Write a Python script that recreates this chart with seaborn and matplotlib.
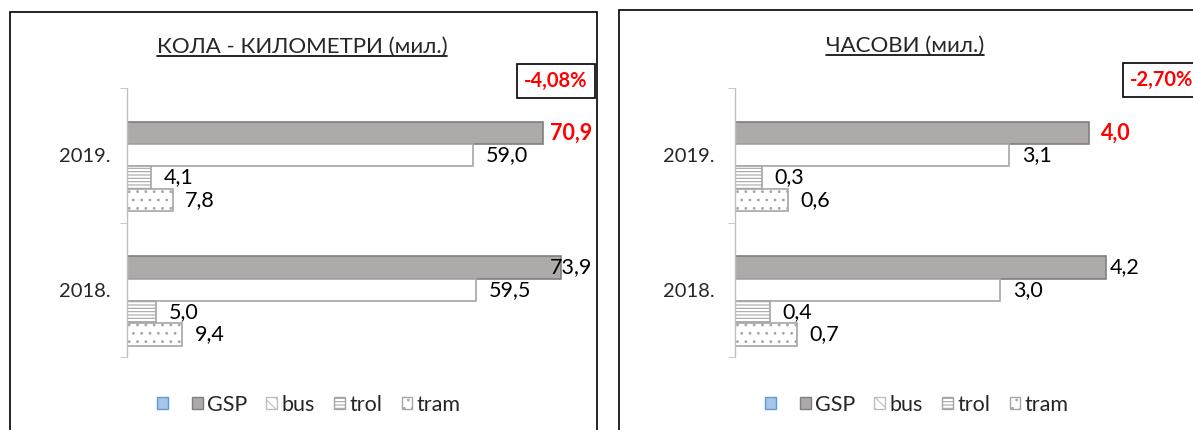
import pandas as pd
import matplotlib
matplotlib.use('Agg')
import matplotlib.pyplot as plt
from matplotlib.patches import Patch, Rectangle
from matplotlib.lines import Line2D
import seaborn as sns

#%% data
years = ['2019.', '2018.']
series = [' ', 'GSP', 'bus', 'trol', 'tram']   # first one is the empty series from the excel sheet
km_2019 = [70.9, 59.0, 4.1, 7.8]
km_2018 = [73.9, 59.5, 5.0, 9.4]
hours_2019 = [4.0, 3.1, 0.3, 0.6]
hours_2018 = [4.2, 3.0, 0.4, 0.7]
titles = ['КОЛА - КИЛОМЕТРИ (мил.)', 'ЧАСОВИ (мил.)']
changes = ['-4,08%', '-2,70%']

#%% style
sns.set_style('white')
plt.rcParams['font.family'] = ['Lato', 'DejaVu Sans']
plt.rcParams['hatch.linewidth'] = 0.8

face = {' ': '#A9C4E6', 'GSP': '#AEAAAA', 'bus': 'white', 'trol': 'white', 'tram': 'white'}
edge = {' ': '#5B9BD5', 'GSP': '#7F7F7F', 'bus': '#A6A6A6', 'trol': '#A6A6A6', 'tram': '#A6A6A6'}
hatch = {' ': '', 'GSP': '', 'bus': '', 'trol': '-----', 'tram': '..'}


def to_long(v19, v18):
    rows = []
    for year, vals in zip(years, [v19, v18]):
        rows.append((year, series[0], 0.0))
        for s, v in zip(series[1:], vals):
            rows.append((year, s, v))
    return pd.DataFrame(rows, columns=['year', 'mode', 'value'])


def fmt(v):
    return f'{v:.1f}'.replace('.', ',')


W, H = 1193, 430
fig = plt.figure(figsize=(W / 100, H / 100), dpi=100)


def px(x0, y0, x1, y1):
    return [x0 / W, 1 - y1 / H, (x1 - x0) / W, (y1 - y0) / H]


panels = [
    dict(df=to_long(km_2019, km_2018), box=(127, 88, 592, 357), xmax=79.2, pad=12,
         title=(302, 47), change=(556, 81), legend=(309, 405), frame=(10, 12, 597)),
    dict(df=to_long(hours_2019, hours_2018), box=(735, 88, 1140, 357), xmax=4.58, pad=15,
         title=(905, 46), change=(1162, 80), legend=(917, 405), frame=(619, 10, 1205)),
]

labels = []
titles_txt = []
for p, title, change in zip(panels, titles, changes):
    ax = fig.add_axes(px(*p['box']))
    sns.barplot(data=p['df'], y='year', x='value', hue='mode', order=years, hue_order=series,
                orient='h', width=0.83, palette=face, legend=False, ax=ax)
    for cont, s in zip(ax.containers, series):
        for bar in cont:
            if s == ' ':
                bar.set_visible(False)
                continue
            bar.set_facecolor(face[s])
            bar.set_edgecolor(edge[s])
            bar.set_hatch(hatch[s])
            bar.set_linewidth(1.2)
            v = bar.get_width()
            y = bar.get_y() + bar.get_height() / 2
            top = s == 'GSP' and y < 0.5
            t = ax.annotate(fmt(v), (v, y), xytext=(9, 0), textcoords='offset points',
                            ha='left', va='center', fontsize=15.5,
                            color='#FF0000' if top else 'black',
                            fontweight='bold' if top else 'normal')
            labels.append((ax, t))

    ax.set_xlim(0, p['xmax'])
    ax.set_ylim(1.5, -0.5)
    ax.set_xticks([])
    ax.set_xlabel('')
    ax.set_ylabel('')
    sns.despine(ax=ax, left=False, bottom=True)
    ax.spines['left'].set_color('#BFBFBF')
    ax.spines['left'].set_linewidth(1)
    ax.set_yticks([-0.5, 0.5, 1.5], minor=True)
    ax.tick_params(axis='y', which='minor', length=5, color='#BFBFBF', left=True)
    ax.tick_params(axis='y', which='major', length=0, pad=p['pad'], labelsize=14.5)

    tt = fig.text(p['title'][0] / W, 1 - p['title'][1] / H, title, ha='center', va='center', fontsize=16)
    titles_txt.append(tt)
    fig.text(p['change'][0] / W, 1 - p['change'][1] / H, change, ha='center', va='center',
             color='#FF0000', fontweight='bold', fontsize=14.5,
             bbox=dict(boxstyle='square,pad=0.35', fc='white', ec='black', lw=1.2))

    handles = [Patch(fc=face[s], ec=edge[s] if s != 'bus' else '#BFBFBF',
                     hatch='\\\\\\' if s == 'bus' else hatch[s], label=s) for s in series]
    handles[0].set_label('')
    fig.legend(handles=handles, loc='center', bbox_to_anchor=(p['legend'][0] / W, 1 - p['legend'][1] / H),
               ncol=5, frameon=False, fontsize=15.5, handlelength=0.5, handleheight=0.5,
               handletextpad=0.2, columnspacing=0.9)

    x0, y0, x1 = p['frame']
    fig.add_artist(Rectangle((x0 / W, -0.05), (x1 - x0) / W, 1.05 - y0 / H, transform=fig.transFigure,
                             fill=False, ec='black', lw=1.2))

# keep labels inside the plot area like excel does, underline titles
fig.canvas.draw()
for ax, t in labels:
    over = t.get_window_extent().x1 - ax.get_window_extent().x1
    if over > 0:
        t.xyann = (9 - over * 0.72, 0)
for tt in titles_txt:
    bb = tt.get_window_extent()
    fig.add_artist(Line2D([bb.x0 / W, bb.x1 / W], [(bb.y0 + 1) / H] * 2, transform=fig.transFigure,
                          color='black', lw=1.2))

plt.savefig('out.png', dpi=100)
